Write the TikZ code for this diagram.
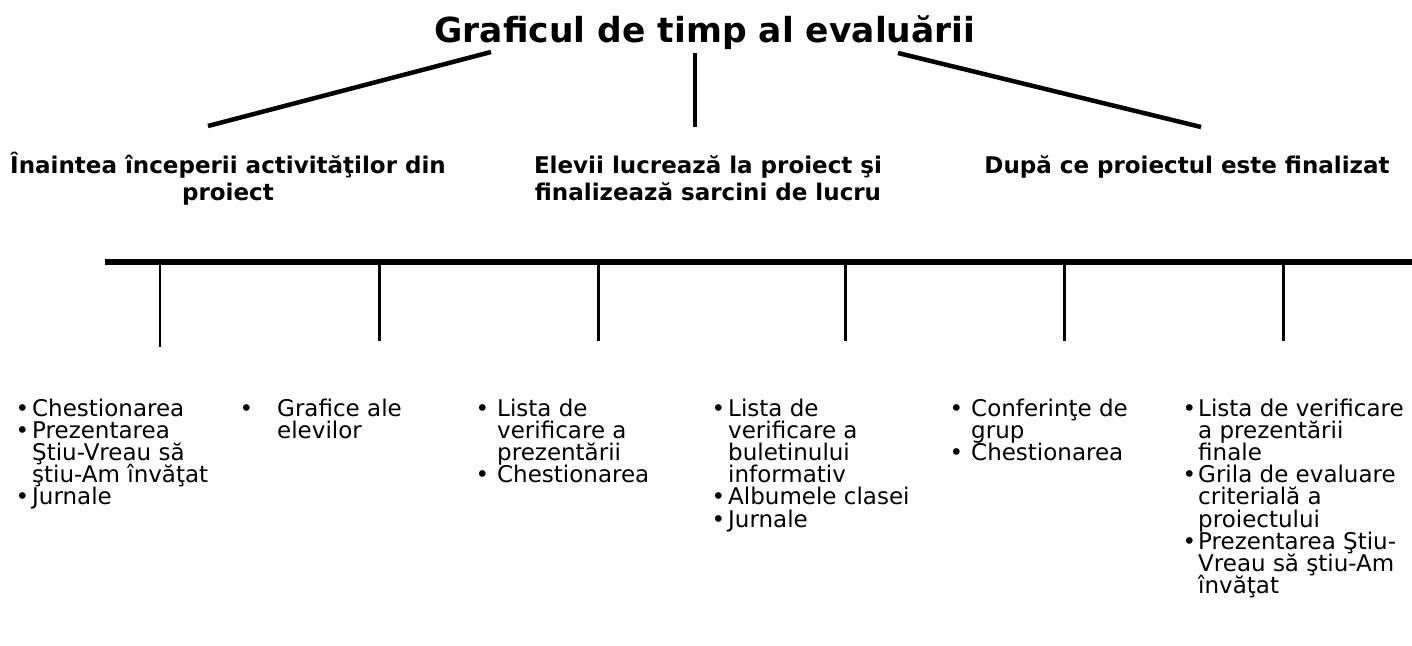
\documentclass[tikz,border=0pt]{standalone}
\usepackage{fontspec}
\setmainfont{DejaVu Sans}
\newcommand\bl[1]{\llap{\textbullet\hspace{#1}}}
\newcommand\itemlist[1]{\vtop{\lineskiplimit=-100pt\relax\baselineskip=22.2pt\relax #1}}
\tikzset{
  conn/.style={line width=4.5pt},
  axisline/.style={line width=6pt},
  tickline/.style={line width=3pt},
  thintick/.style={line width=1.5pt},
  titletext/.style={font=\bfseries\fontsize{34.5}{40}\selectfont, inner sep=0pt, anchor=base},
  headtext/.style={font=\bfseries\fontsize{23}{27}\selectfont, inner sep=0pt, anchor=base},
  itemtext/.style={font=\fontsize{23}{22.2}\selectfont, inner sep=0pt, anchor=base west},
}
\begin{document}
\begin{tikzpicture}[x=1pt,y=-1pt]
\useasboundingbox[fill=white] (0,0) rectangle (1412,645);

% title
\node[titletext] (title) at (705,42) {Graficul de timp al evaluării};

% connectors from title
\coordinate (la) at (491,52);  \coordinate (lb) at (208,126);
\coordinate (ma) at (695,53);  \coordinate (mb) at (695,127);
\coordinate (ra) at (898,53);  \coordinate (rb) at (1201,127);
\draw[conn] (la) -- (lb);
\draw[conn] (ma) -- (mb);
\draw[conn] (ra) -- (rb);

% headings
\node[headtext] (h1) at (228,173) {\begin{tabular}[t]{@{}c@{}}Înaintea începerii activităţilor din\\proiect\end{tabular}};
\node[headtext] (h2) at (708,173) {\begin{tabular}[t]{@{}c@{}}Elevii lucrează la proiect şi\\finalizează sarcini de lucru\end{tabular}};
\node[headtext] (h3) at (1187,173) {După ce proiectul este finalizat};

% timeline
\coordinate (axL) at (105,262);
\coordinate (axR) at (1412,262);
\draw[axisline] (axL) -- (axR);
\coordinate (t1a) at (160,262);  \coordinate (t1b) at (160,347);
\coordinate (t2a) at (379,262);  \coordinate (t2b) at (379,341);
\coordinate (t3a) at (598,262);  \coordinate (t3b) at (598,341);
\coordinate (t4a) at (845,262);  \coordinate (t4b) at (845,341);
\coordinate (t5a) at (1064,262); \coordinate (t5b) at (1064,341);
\coordinate (t6a) at (1283,262); \coordinate (t6b) at (1283,341);
\draw[thintick] (t1a) -- (t1b);
\draw[tickline] (t2a) -- (t2b);
\draw[tickline] (t3a) -- (t3b);
\draw[tickline] (t4a) -- (t4b);
\draw[tickline] (t5a) -- (t5b);
\draw[tickline] (t6a) -- (t6b);

% item lists
\node[itemtext] (c1) at (32,416) {\itemlist{%
  \hbox{\bl{3pt}Chestionarea}%
  \hbox{\bl{3pt}Prezentarea}%
  \hbox{Ştiu-Vreau să}%
  \hbox{ştiu-Am învăţat}%
  \hbox{\bl{3pt}Jurnale}}};
\node[itemtext] (c2) at (277,416) {\itemlist{%
  \hbox{\bl{24pt}Grafice ale}%
  \hbox{elevilor}}};
\node[itemtext] (c3) at (497,416) {\itemlist{%
  \hbox{\bl{8pt}Lista de}%
  \hbox{verificare a}%
  \hbox{prezentării}%
  \hbox{\bl{8pt}Chestionarea}}};
\node[itemtext] (c4) at (728,416) {\itemlist{%
  \hbox{\bl{3pt}Lista de}%
  \hbox{verificare a}%
  \hbox{buletinului}%
  \hbox{informativ}%
  \hbox{\bl{3pt}Albumele clasei}%
  \hbox{\bl{3pt}Jurnale}}};
\node[itemtext] (c5) at (971,416) {\itemlist{%
  \hbox{\bl{8pt}Conferinţe de}%
  \hbox{grup}%
  \hbox{\bl{8pt}Chestionarea}}};
\node[itemtext] (c6) at (1198,416) {\itemlist{%
  \hbox{\bl{2pt}Lista de verificare}%
  \hbox{a prezentării}%
  \hbox{finale}%
  \hbox{\bl{2pt}Grila de evaluare}%
  \hbox{criterială a}%
  \hbox{proiectului}%
  \hbox{\bl{2pt}Prezentarea Ştiu-}%
  \hbox{Vreau să ştiu-Am}%
  \hbox{învăţat}}};
\end{tikzpicture}
\end{document}
